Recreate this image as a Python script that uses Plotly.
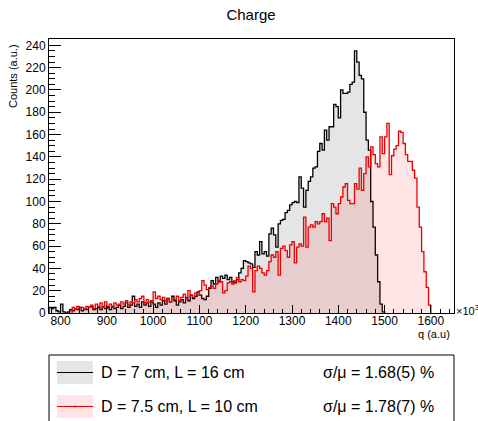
import plotly.graph_objects as go

# ---------------- data ----------------
BIN_LOW = 775.0      # x10^3, left edge of first bin
BIN_WIDTH = 5.0      # x10^3

black_counts = [
    5, 4, 5, 2, 1, 8, 1, 0, 1, 3, 2, 4, 3, 5, 2, 4, 3, 5, 6, 3,          # 775-875
    4, 5, 3, 6, 4, 5, 3, 6, 4, 5, 7, 4, 6, 9, 5, 7, 15, 6, 8, 5,         # 875-975
    10, 7, 9, 6, 10, 8, 5, 9, 7, 11, 8, 13, 10, 15, 11, 7, 10, 12, 9, 14,  # 975-1075
    11, 16, 13, 15, 19, 16, 13, 12, 15, 22, 29, 26, 32, 28, 33, 31, 34, 30, 32, 28,  # 1075-1175
    27, 30, 36, 40, 47, 46, 45, 44, 41, 55, 52, 64, 53, 55, 51, 71, 76, 70, 59, 80,  # 1175-1275
    83, 84, 90, 92, 97, 99, 100, 99, 122, 112, 95, 110, 118, 122, 130, 131, 145, 152, 146, 164,  # 1275-1375
    155, 167, 167, 187, 185, 175, 200, 197, 197, 198, 205, 207, 235, 225, 213, 210, 180, 155, 146, 100,  # 1375-1475
    77, 52, 28, 8, 1,                                                       # 1475-1500
]

red_counts = [
    0, 0, 0, 0, 0, 0, 0, 0, 0, 0,                                         # 775-825
    5, 4, 6, 3, 5, 4, 6, 5, 7, 4,                                         # 825-875
    8, 6, 9, 5, 10, 6, 8, 5, 9, 7, 8, 10, 8, 11, 7, 10, 9, 12, 10, 13,    # 875-975
    15, 9, 12, 10, 11, 19, 13, 15, 12, 14, 11, 13, 10, 14, 12, 15, 11, 14, 17, 13,  # 975-1075
    20, 16, 14, 18, 16, 20, 29, 25, 21, 23, 24, 22, 26, 29, 28, 18, 20, 27, 28, 26,  # 1075-1175
    29, 32, 28, 30, 29, 33, 42, 40, 19, 38, 42, 40, 36, 34, 38, 46, 52, 50, 55, 34,  # 1175-1275
    58, 60, 56, 50, 61, 64, 45, 59, 62, 60, 86, 59, 77, 79, 77, 82, 80, 82, 89, 82,  # 1275-1375
    85, 65, 98, 95, 89, 98, 104, 113, 116, 101, 98, 98, 116, 111, 130, 110, 125, 140, 131, 149,  # 1375-1475
    142, 134, 131, 158, 143, 158, 170, 124, 141, 147, 150, 163, 162, 152, 142, 136, 136, 128, 121, 95,  # 1475-1575
    77, 55, 37, 23, 7,                                                      # 1575-1600
]

series_names = ["D = 7 cm, L = 16 cm", "D = 7.5 cm, L = 10 cm"]
series_res = ["\u03c3/\u03bc = 1.68(5) %", "\u03c3/\u03bc = 1.78(7) %"]

x_tick_vals = [800, 900, 1000, 1100, 1200, 1300, 1400, 1500, 1600]
y_tick_vals = list(range(0, 241, 20))

# ---------------- styling ----------------
W, H = 478, 421
PL, PR, PT, PB = 49, 454, 39, 313   # plot frame in pixels
FONT = "Liberation Sans, Arial, sans-serif"

black_line = "black"
black_fill = "rgb(229,229,229)"
red_line = "rgb(235,0,0)"
red_fill = "rgba(255,0,0,0.10)"


def step_xy(counts):
    # trim leading / trailing empty bins, return step outline points
    idx = [i for i, c in enumerate(counts) if c > 0]
    i0, i1 = idx[0], idx[-1]
    xs, ys = [], []
    for i in range(i0, i1 + 1):
        xs.append(BIN_LOW + i * BIN_WIDTH)
        ys.append(counts[i])
    xs.append(BIN_LOW + (i1 + 1) * BIN_WIDTH)
    ys.append(counts[i1])
    xs = [xs[0]] + xs + [xs[-1]]
    ys = [0] + ys + [0]
    return xs, ys


fig = go.Figure()
bx, by = step_xy(black_counts)
fig.add_trace(go.Scatter(x=bx, y=by, mode="lines", line=dict(color=black_line, width=1.3, shape="hv"),
                         fill="tozeroy", fillcolor=black_fill, showlegend=False, hoverinfo="skip"))
rx, ry = step_xy(red_counts)
fig.add_trace(go.Scatter(x=rx, y=ry, mode="lines", line=dict(color=red_line, width=1.3, shape="hv"),
                         fill="tozeroy", fillcolor=red_fill, showlegend=False, hoverinfo="skip"))


def px(x):
    return (x - PL) / (PR - PL)


def py(y):
    return (PB - y) / (PB - PT)


fig.update_layout(
    width=W, height=H,
    margin=dict(l=PL, r=W - PR, t=PT, b=H - PB, pad=0),
    paper_bgcolor="white", plot_bgcolor="white",
    font=dict(family=FONT, color="black", size=12),
    title=dict(text="Charge", x=251 / W, y=1 - 15 / H, xanchor="center", yanchor="middle",
               font=dict(size=15, family=FONT)),
    showlegend=False,
)

fig.update_xaxes(
    range=[775, 1650], showgrid=False, zeroline=False,
    showline=True, linecolor="black", linewidth=1, mirror=True,
    ticks="inside", ticklen=8, tickwidth=1, tickcolor="black",
    tickvals=x_tick_vals, ticktext=[str(v) for v in x_tick_vals],
    tickfont=dict(size=12, family=FONT), ticklabelstandoff=-3,
    minor=dict(ticks="inside", ticklen=4, dtick=20, tick0=800, tickcolor="black", showgrid=False),
)
fig.update_yaxes(
    range=[0, 245.7], showgrid=False, zeroline=False,
    showline=True, linecolor="black", linewidth=1, mirror=True,
    ticks="inside", ticklen=12, tickwidth=1, tickcolor="black",
    tickvals=y_tick_vals, ticktext=[str(v) for v in y_tick_vals],
    tickfont=dict(size=12, family=FONT),
    minor=dict(ticks="inside", ticklen=6, dtick=5, tick0=0, tickcolor="black", showgrid=False),
)

ann = []
ann.append(dict(text="Counts (a.u.)", xref="paper", yref="paper", x=px(13), y=py(42),
                xanchor="center", yanchor="top", textangle=-90, showarrow=False,
                font=dict(size=11, family=FONT)))
ann.append(dict(text="q (a.u)", xref="paper", yref="paper", x=px(452), y=py(334),
                xanchor="right", yanchor="middle", showarrow=False, font=dict(size=11, family=FONT)))
ann.append(dict(text="\u00d710<sup>3</sup>", xref="paper", yref="paper", x=px(454), y=py(310),
                xanchor="left", yanchor="middle", showarrow=False, font=dict(size=11, family=FONT)))

shapes = []
shapes.append(dict(type="rect", xref="paper", yref="paper", x0=px(49), x1=px(454), y0=py(355), y1=py(440),
                   line=dict(color="black", width=1), fillcolor="white", layer="above"))
rows = [(361, 384, 372.5, black_fill, black_line), (395, 418, 406.5, red_fill, red_line)]
for k, (y0, y1, ym, fc, lc) in enumerate(rows):
    shapes.append(dict(type="rect", xref="paper", yref="paper", x0=px(57), x1=px(93), y0=py(y0), y1=py(y1),
                       line=dict(width=0), fillcolor=fc, layer="above"))
    shapes.append(dict(type="line", xref="paper", yref="paper", x0=px(57), x1=px(93), y0=py(ym), y1=py(ym),
                       line=dict(color=lc, width=1), layer="above"))
    ann.append(dict(text=series_names[k], xref="paper", yref="paper", x=px(99), y=py(ym),
                    xanchor="left", yanchor="middle", showarrow=False, font=dict(size=16, family=FONT)))
    ann.append(dict(text=series_res[k], xref="paper", yref="paper", x=px(321), y=py(ym),
                    xanchor="left", yanchor="middle", showarrow=False, font=dict(size=16, family=FONT)))
shapes.append(dict(type="circle", xref="paper", yref="paper", x0=px(74), x1=px(76), y0=py(405.5), y1=py(407.5),
                   line=dict(width=0), fillcolor=red_line, layer="above"))

fig.update_layout(annotations=ann, shapes=shapes)
fig.write_html("out.html", config={"displayModeBar": False},
               post_script="document.body.style.margin='0';document.body.style.padding='0';")
